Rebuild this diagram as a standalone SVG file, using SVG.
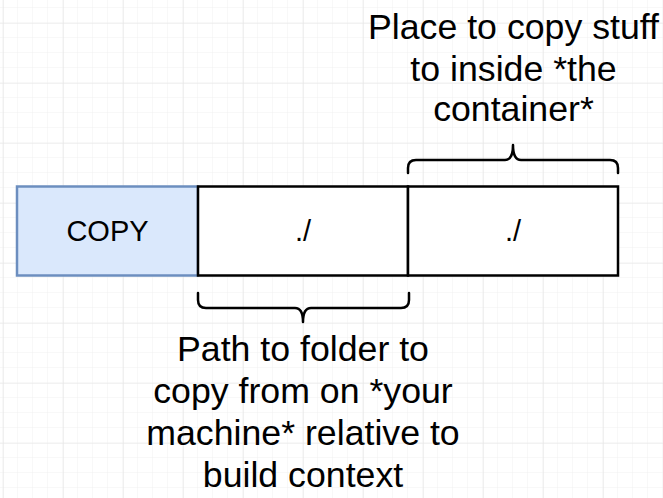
<svg xmlns="http://www.w3.org/2000/svg" width="663" height="498" viewBox="0 0 663 498">
<defs>
<pattern id="minor" x="3" y="8" width="15" height="15" patternUnits="userSpaceOnUse">
<path d="M15,0 V15 M0,15 H15" fill="none" stroke="#f1f1f1" stroke-width="1"/>
</pattern>
<pattern id="major" x="3" y="23" width="60" height="60" patternUnits="userSpaceOnUse">
<path d="M0,0 V60 M0,0 H60" fill="none" stroke="#e6e6e6" stroke-width="1.2"/>
</pattern>
</defs>
<style>
text{font-family:"Liberation Sans",Arial,Helvetica,sans-serif;fill:#000;text-anchor:middle}
.lbl{font-size:35.7px}
.cell{font-size:29px}
.box{fill:#fff;stroke:#000;stroke-width:2.5}
.brace{fill:none;stroke:#000;stroke-width:2.5;stroke-linecap:round;stroke-linejoin:round}
</style>
<rect width="663" height="498" fill="#fff"/>
<rect width="663" height="498" fill="url(#minor)"/>
<rect width="663" height="498" fill="url(#major)"/>
<g id="copy">
<rect x="17" y="186.5" width="181" height="89" fill="#dae8fc" stroke="#6c8ebf" stroke-width="2.5"/>
<text class="cell" x="107.5" y="241">COPY</text>
</g>
<g id="src">
<rect class="box" x="198" y="186.5" width="210" height="89"/>
<text class="cell" x="303" y="241">./</text>
</g>
<g id="dest">
<rect class="box" x="408" y="186.5" width="210" height="89"/>
<text class="cell" x="513" y="241">./</text>
</g>
<g id="connectors">
<path class="brace" d="M408,173 V168 Q408,160 416,160 H505 Q513,160 513,145 Q513,160 521,160 H610 Q618,160 618,168 V173"/>
<path class="brace" d="M198,293 V300 Q198,308 206,308 H295 Q303,308 303,322 Q303,308 311,308 H401 Q409,308 409,300 V293"/>
</g>
<g id="top-label">
<text class="lbl" x="513.5" y="39">Place to copy stuff</text>
<text class="lbl" x="513.5" y="80.5">to inside *the</text>
<text class="lbl" x="513.5" y="121">container*</text>
</g>
<g id="bottom-label">
<text class="lbl" x="303" y="361">Path to folder to</text>
<text class="lbl" x="303" y="403">copy from on *your</text>
<text class="lbl" x="303" y="445">machine* relative to</text>
<text class="lbl" x="303" y="487">build context</text>
</g>
</svg>
